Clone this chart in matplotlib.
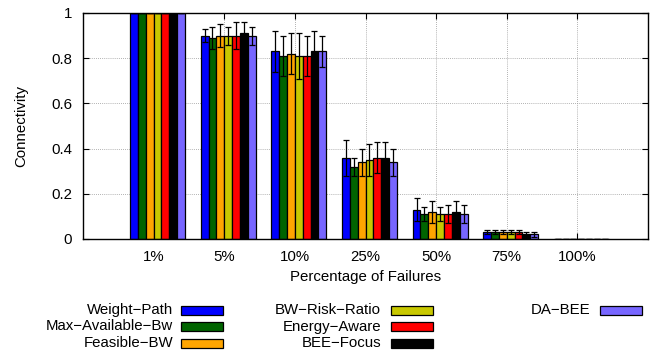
import matplotlib
matplotlib.use("Agg")
import matplotlib.pyplot as plt
from matplotlib.patches import Rectangle
import numpy as np

plt.rcParams['font.family'] = ['Liberation Sans', 'DejaVu Sans']

categories = ["1%", "5%", "10%", "25%", "50%", "75%", "100%"]
series = ["Weight−Path", "Max−Available−Bw", "Feasible−BW", "BW−Risk−Ratio",
          "Energy−Aware", "BEE−Focus", "DA−BEE"]
colors = ["#0000ff", "#006400", "#ffa500", "#c8c800", "#ff0000", "#000000", "#7766ff"]

weight_path   = [1.0, 0.90, 0.83, 0.36, 0.13, 0.03, 0.0]
max_avail_bw  = [1.0, 0.89, 0.81, 0.32, 0.11, 0.03, 0.0]
feasible_bw   = [1.0, 0.90, 0.82, 0.34, 0.12, 0.03, 0.0]
bw_risk_ratio = [1.0, 0.90, 0.81, 0.35, 0.11, 0.03, 0.0]
energy_aware  = [1.0, 0.90, 0.81, 0.36, 0.11, 0.03, 0.0]
bee_focus     = [1.0, 0.91, 0.83, 0.36, 0.12, 0.02, 0.0]
da_bee        = [1.0, 0.90, 0.83, 0.34, 0.11, 0.02, 0.0]

weight_path_err   = [0.0, 0.03, 0.09, 0.08, 0.05, 0.01, 0.0]
max_avail_bw_err  = [0.0, 0.05, 0.09, 0.04, 0.03, 0.01, 0.0]
feasible_bw_err   = [0.0, 0.05, 0.09, 0.06, 0.05, 0.01, 0.0]
bw_risk_ratio_err = [0.0, 0.04, 0.10, 0.07, 0.03, 0.01, 0.0]
energy_aware_err  = [0.0, 0.06, 0.09, 0.07, 0.04, 0.01, 0.0]
bee_focus_err     = [0.0, 0.05, 0.09, 0.07, 0.05, 0.01, 0.0]
da_bee_err        = [0.0, 0.04, 0.07, 0.06, 0.04, 0.01, 0.0]

values = [weight_path, max_avail_bw, feasible_bw, bw_risk_ratio, energy_aware, bee_focus, da_bee]
errors = [weight_path_err, max_avail_bw_err, feasible_bw_err, bw_risk_ratio_err,
          energy_aware_err, bee_focus_err, da_bee_err]

FS = 10.8
W, H = 652, 352
fig = plt.figure(figsize=(W / 100, H / 100), dpi=100)
ax = fig.add_axes([83 / W, 1 - 239 / H, (648 - 83) / W, (239 - 13) / H])

x = np.arange(len(categories))
nser = len(series)
bw = 1.0 / (nser + 2)
offset0 = -(nser - 1) / 2 * bw + 0.5 * bw

for i in range(nser):
    pos = x + offset0 + i * bw
    ax.bar(pos, values[i], width=bw, color=colors[i], edgecolor='black',
           linewidth=0.9, zorder=2)
    ax.errorbar(pos, values[i], yerr=errors[i], fmt='none', ecolor='black',
                elinewidth=0.9, capsize=2.2, capthick=0.9, zorder=3)

ax.set_xlim(-1, len(categories))
ax.set_ylim(0, 1)
ax.set_xticks(x)
ax.set_xticklabels(categories)
ax.set_yticks([0, 0.2, 0.4, 0.6, 0.8, 1.0])
ax.set_yticklabels(["0", "0.2", "0.4", "0.6", "0.8", "1"])
ax.tick_params(direction='in', top=True, right=True, length=4, width=0.8,
               labelsize=FS)
ax.tick_params(axis='y', pad=8)
ax.tick_params(axis='x', pad=8)
ax.grid(True, linestyle=(0, (1, 1.5)), color='#999999', linewidth=0.6, zorder=0)
ax.set_axisbelow(True)
for s in ax.spines.values():
    s.set_linewidth(1.0)

ax.set_xlabel("Percentage of Failures", fontsize=FS, labelpad=4)
ax.set_ylabel("Connectivity", fontsize=FS, labelpad=16)

# legend, gnuplot style: right-aligned text followed by a sample box
col_text_right = [173, 381, 590]
col_box_left = [181, 391, 600]
box_w, box_h = 42, 9
row_y = [310, 326.5, 343]
layout = [(0, 0), (0, 1), (0, 2), (1, 0), (1, 1), (1, 2), (2, 0)]
for i, (c, r) in enumerate(layout):
    fig.text(col_text_right[c] / W, 1 - row_y[r] / H, series[i], ha='right',
             va='center', fontsize=FS)
    fig.patches.append(Rectangle((col_box_left[c] / W, 1 - (row_y[r] + box_h / 2) / H),
                                 box_w / W, box_h / H, transform=fig.transFigure,
                                 facecolor=colors[i], edgecolor='black', linewidth=0.9))

fig.savefig("out.png", dpi=100)
